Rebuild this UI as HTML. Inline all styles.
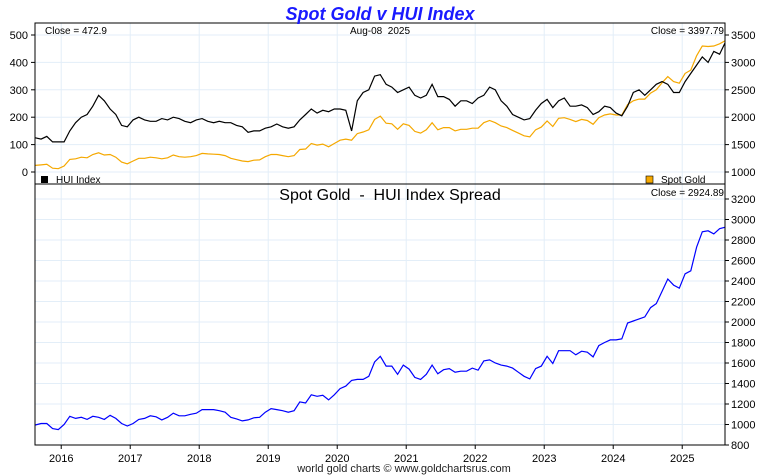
<!DOCTYPE html>
<html><head><meta charset="utf-8"><style>
body{margin:0;background:#fff}
svg{display:block;font-family:"Liberation Sans",sans-serif}
text{white-space:pre}
</style></head><body>
<svg id="c" width="760" height="475"></svg>
<script>
const years=[2016,2017,2018,2019,2020,2021,2022,2023,2024,2025];
const startYear=2015;const startMonth=8;
const goldVals=[1120,1130,1140,1070,1060,
1110,1230,1240,1270,1260,1320,1350,1310,1320,1270,1180,1150,
1200,1250,1250,1270,1260,1240,1260,1310,1280,1270,1280,1300,
1340,1330,1325,1320,1300,1250,1225,1200,1190,1215,1220,1280,
1320,1320,1300,1280,1300,1410,1420,1520,1490,1510,1460,1520,
1580,1600,1580,1700,1730,1770,1960,2020,1890,1880,1780,1880,
1850,1740,1710,1770,1900,1770,1810,1810,1750,1780,1780,1800,
1800,1900,1940,1900,1840,1810,1760,1710,1660,1640,1770,1820,
1930,1830,1980,1990,1960,1920,1960,1940,1870,1990,2040,2060,
2040,2040,2230,2300,2330,2330,2440,2500,2630,2740,2650,2620,
2800,2860,3120,3300,3290,3300,3340,3397.79];
const huiVals=[125,120,130,110,110,
110,150,180,200,210,240,280,260,230,210,170,165,
190,200,190,185,185,195,190,200,195,185,180,190,
195,185,180,185,180,180,170,165,145,150,150,160,
165,175,165,160,165,190,210,230,215,225,220,230,
230,225,150,260,290,300,350,355,320,310,290,300,
310,280,270,280,320,275,275,265,240,260,260,250,
270,280,310,300,260,240,210,200,190,195,225,250,
265,235,260,270,240,240,245,235,210,220,240,235,
215,205,240,290,300,280,300,320,330,320,290,290,
330,360,390,420,400,440,430,472.9];
const leftTicks=[0,100,200,300,400,500];
const rightTicks=[1000,1500,2000,2500,3000,3500];
const spreadTicks=[800,1000,1200,1400,1600,1800,2000,2200,2400,2600,2800,3000,3200];

const L=35,R=725;
const xS=t=>L+(t-2015.62)*69;
const yHui=v=>172-v*0.274;
const yGold=v=>172-(v-1000)*0.0548;
const ySpr=v=>445-(v-800)*0.1025;
const tOf=i=>{const m=startMonth-1+i;return startYear+Math.floor(m/12)+((m%12)+0.5)/12;};

const svg=document.getElementById('c');const NS='http://www.w3.org/2000/svg';
function mk(tag,attrs,name,parent){const e=document.createElementNS(NS,tag);for(const k in attrs)e.setAttribute(k,attrs[k]);


(parent||svg).appendChild(e);return e;}
function txt(x,y,s,name,opts){const e=mk('text',Object.assign({x:x,y:y,'font-size':11,fill:'#000'},opts||{}),name);e.textContent=s;return e;}

years.forEach(y=>{const x=xS(y);mk('line',{x1:x,x2:x,y1:23,y2:445,stroke:'#e3eef8'},'year-gridline');});
leftTicks.forEach(v=>{const y=yHui(v);mk('line',{x1:L,x2:R,y1:y,y2:y,stroke:'#e3eef8'},'top-gridline');});
spreadTicks.forEach(v=>{const y=ySpr(v);mk('line',{x1:L,x2:R,y1:y,y2:y,stroke:'#e3eef8'},'bottom-gridline');});

const clip=mk('clipPath',{id:'pc'},'plot-clip');
mk('rect',{x:L,y:23,width:R-L,height:422},'plot-clip-rect',clip);
function line(vals,fy,color,name){let d='';vals.forEach((v,i)=>{d+=(i?'L':'M')+xS(tOf(i)).toFixed(1)+','+fy(v).toFixed(1);});
mk('path',{d:d,fill:'none',stroke:color,'stroke-width':1.2,'clip-path':'url(#pc)'},name);}
line(goldVals,yGold,'#f5a800','gold-line');
line(huiVals,yHui,'#000','hui-line');
const spreadVals=goldVals.map((g,i)=>g-huiVals[i]);
line(spreadVals,ySpr,'#0000ff','spread-line');

mk('rect',{x:L,y:23,width:R-L,height:422,fill:'none',stroke:'#000'},'plot-frame');
mk('line',{x1:L,x2:R,y1:184,y2:184,stroke:'#000'},'panel-divider');

leftTicks.forEach(v=>{const y=yHui(v);mk('line',{x1:L-4,x2:L,y1:y,y2:y,stroke:'#000'},'left-tick');txt(L-7,y+4,String(v),'left-tick-label',{'text-anchor':'end'});});
rightTicks.forEach(v=>{const y=yGold(v);mk('line',{x1:R,x2:R+4,y1:y,y2:y,stroke:'#000'},'right-tick');txt(R+6,y+4,String(v),'right-tick-label');});
spreadTicks.forEach(v=>{const y=ySpr(v);mk('line',{x1:R,x2:R+4,y1:y,y2:y,stroke:'#000'},'spread-tick');txt(R+6,y+4,String(v),'spread-tick-label');});
years.forEach(yr=>{const x=xS(yr);mk('line',{x1:x,x2:x,y1:445,y2:449,stroke:'#000'},'x-tick');txt(x,462,String(yr),'x-tick-label',{'text-anchor':'middle'});});

txt(380,20,'Spot Gold v HUI Index','chart-title',{'text-anchor':'middle','font-size':18,'font-weight':'bold','font-style':'italic',fill:'#1a1aff'});
txt(45,34,'Close = 472.9','hui-close',{'font-size':10});
txt(380,34,'Aug-08  2025','date-label',{'text-anchor':'middle','font-size':10});
txt(724,34,'Close = 3397.79','gold-close',{'text-anchor':'end','font-size':10});
mk('rect',{x:41,y:176,width:7,height:7,fill:'#000'},'hui-legend-swatch');
txt(56,183,'HUI Index','hui-legend-label',{'font-size':10});
mk('rect',{x:646,y:176,width:7,height:7,fill:'#f5a800',stroke:'#000','stroke-width':0.6},'gold-legend-swatch');
txt(661,183,'Spot Gold','gold-legend-label',{'font-size':10});
txt(390,200,'Spot Gold  -  HUI Index Spread','spread-title',{'text-anchor':'middle','font-size':16});
txt(724,196,'Close = 2924.89','spread-close',{'text-anchor':'end','font-size':10});
txt(404,472,'world gold charts © www.goldchartsrus.com','footer-credit',{'text-anchor':'middle','font-size':11,fill:'#222'});
</script>
</body></html>
